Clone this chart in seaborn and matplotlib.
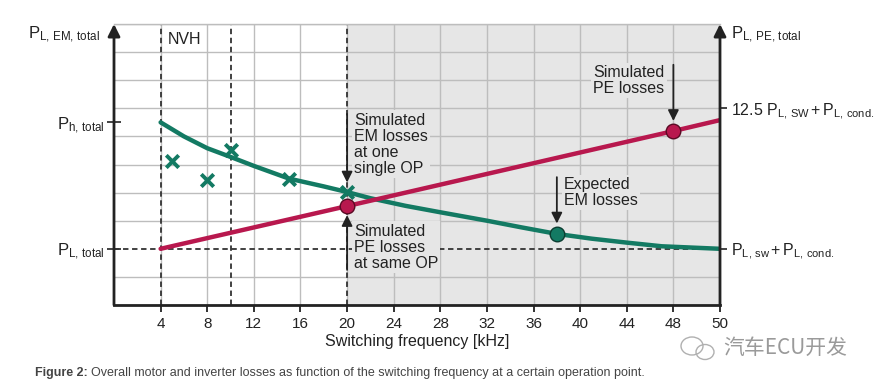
import numpy as np
import matplotlib
matplotlib.use('Agg')
import matplotlib.pyplot as plt
from matplotlib.ticker import MultipleLocator
from matplotlib.patches import Ellipse
import seaborn as sns

# values (y in grid units, 0 = bottom, 10 = top)
em_freq = [4, 6, 8, 10, 12, 15, 18, 20, 22, 25, 28, 32, 35, 38, 41, 44, 47, 50]
em_loss = [6.5, 6.0, 5.58, 5.27, 4.95, 4.5, 4.22, 4.02, 3.8, 3.53, 3.3, 3.0,
           2.76, 2.53, 2.36, 2.22, 2.09, 2.0]
pe_freq = [4, 20, 48, 50]
pe_loss = [2.0, 3.52, 6.19, 6.58]
meas_freq = [5, 8, 10, 15, 20]
meas_loss = [5.12, 4.45, 5.52, 4.48, 4.02]
em_pt_freq = [38]
em_pt_loss = [2.53]
pe_pt_freq = [20, 48]
pe_pt_loss = [3.52, 6.19]
xticks = [4, 8, 12, 16, 20, 24, 28, 32, 36, 40, 44, 48, 50]
nvh_lines = [4, 10, 20]
p_total = 2.0
p_h_total = 6.5
p_pe_level = 7.0

GREEN = '#137a63'
RED = '#b8184e'
DARK = '#222222'
SHADE = '#e6e6e6'

sns.set_style('white')
plt.rcParams['font.family'] = ['Liberation Sans', 'Noto Sans CJK SC', 'DejaVu Sans']
plt.rcParams['mathtext.fontset'] = 'custom'
plt.rcParams['mathtext.rm'] = 'Liberation Sans'
plt.rcParams['mathtext.bf'] = 'Liberation Sans:bold'
plt.rcParams['mathtext.it'] = 'Liberation Sans:italic'


# last tick interval (48-50) is drawn as wide as the others
def fwd(f):
    f = np.asarray(f, dtype=float)
    return np.where(f <= 48, f, 48 + 2 * (f - 48))


def inv(u):
    u = np.asarray(u, dtype=float)
    return np.where(u <= 48, u, 48 + (u - 48) / 2)


fig = plt.figure(figsize=(8.74, 3.87), dpi=100)
ax = fig.add_axes([114 / 874, 82 / 387, 606 / 874, 281 / 387])
ax.set_xscale('function', functions=(fwd, inv))
ax.set_xlim(0, 50)
ax.set_ylim(0, 10)

# shaded region and grid
ax.axvspan(20, 50, color=SHADE, zorder=0, lw=0)
ax.set_axisbelow(True)
ax.set_xticks(xticks)
ax.set_xticklabels([str(t) for t in xticks])
ax.yaxis.set_minor_locator(MultipleLocator(1))
ax.grid(axis='x', which='major', color='#bdbdbd', lw=1)
ax.grid(axis='y', which='minor', color='#bdbdbd', lw=1)

# dashed guide lines
for f in nvh_lines:
    ax.axvline(f, color='#333333', ls=(0, (3, 2)), lw=1.3, zorder=1)
ax.axhline(p_total, color='#333333', ls=(0, (3, 2)), lw=1.3, zorder=1)

# curves
sns.lineplot(x=em_freq, y=em_loss, ax=ax, color=GREEN, lw=3.2, zorder=3)
sns.lineplot(x=pe_freq, y=pe_loss, ax=ax, color=RED, lw=3.2, zorder=3)
sns.scatterplot(x=meas_freq, y=meas_loss, ax=ax, marker='x', s=80,
                color=GREEN, linewidth=2.8, zorder=4)
sns.scatterplot(x=em_pt_freq, y=em_pt_loss, ax=ax, s=110, color=GREEN,
                edgecolor='#0b3d31', linewidth=1, zorder=5)
sns.scatterplot(x=pe_pt_freq, y=pe_pt_loss, ax=ax, s=110, color=RED,
                edgecolor='#5a0a24', linewidth=1, zorder=5)

# annotations
arr = dict(arrowstyle='-|>', color=DARK, lw=1.3, mutation_scale=16,
           shrinkA=0, shrinkB=0)
fs = 11.5
box = dict(fc=SHADE, ec='none', pad=1.5)
ax.annotate('', xy=(20, 4.36), xytext=(20, 6.8), arrowprops=arr, zorder=6)
ax.annotate('Simulated\nEM losses\nat one\nsingle OP', xy=(20, 6.85),
            xytext=(5, 0), textcoords='offset points', ha='left', va='top',
            fontsize=fs, color=DARK, linespacing=1.1, bbox=box, zorder=2)
ax.annotate('', xy=(20, 3.2), xytext=(20, 1.25), arrowprops=arr, zorder=6)
ax.annotate('Simulated\nPE losses\nat same OP', xy=(20, 2.9),
            xytext=(5, 0), textcoords='offset points', ha='left', va='top',
            fontsize=fs, color=DARK, linespacing=1.1, bbox=box, zorder=2)
ax.annotate('', xy=(38, 2.9), xytext=(38, 4.55), arrowprops=arr, zorder=6)
ax.annotate('Expected\nEM losses', xy=(38, 4.55),
            xytext=(5, 0), textcoords='offset points', ha='left', va='top',
            fontsize=fs, color=DARK, linespacing=1.1, bbox=box, zorder=2)
ax.annotate('', xy=(48, 6.55), xytext=(48, 8.55), arrowprops=arr, zorder=6)
ax.annotate('Simulated\nPE losses', xy=(48, 8.55),
            xytext=(-32, 0), textcoords='offset points', ha='center', va='top',
            fontsize=fs, color=DARK, linespacing=1.1, bbox=box, zorder=2)
ax.annotate('NVH', xy=(4, 9.45), xytext=(5, 0), textcoords='offset points',
            ha='left', va='center', fontsize=11.5, color=DARK)

# spines and axis arrows
for s in ['left', 'right']:
    ax.spines[s].set_visible(False)
ax.spines['top'].set_color('#bdbdbd')
ax.spines['top'].set_linewidth(1)
ax.spines['bottom'].set_color(DARK)
ax.spines['bottom'].set_linewidth(2)
axarr = dict(arrowstyle='-|>', color=DARK, lw=2, mutation_scale=18,
             shrinkA=0, shrinkB=0)
ax.annotate('', xy=(0, 1.0), xycoords='axes fraction', xytext=(0, 0),
            textcoords='axes fraction', arrowprops=axarr, zorder=7)
ax.annotate('', xy=(1, 1.0), xycoords='axes fraction', xytext=(1, 0),
            textcoords='axes fraction', arrowprops=axarr, zorder=7)

ax.tick_params(axis='x', which='major', direction='out', length=5, width=1.3,
               color=DARK, labelsize=11, labelcolor=DARK, pad=4, bottom=True)
ax.tick_params(axis='y', which='minor', length=0)
ax.set_yticks([p_total, p_h_total])
ax.set_yticklabels([r'$\mathregular{P_{L,\,total}}$',
                    r'$\mathregular{P_{h,\,total}}$'])
ax.tick_params(axis='y', which='major', direction='inout', length=10, width=1.2,
               color=DARK, labelsize=12, labelcolor=DARK, pad=2, left=True)
ax.set_xlabel('Switching frequency [kHz]', fontsize=11.5, color=DARK, labelpad=2)
ax.set_ylabel('')

ax2 = ax.twinx()
ax2.set_ylim(0, 10)
for s in ax2.spines.values():
    s.set_visible(False)
ax2.set_yticks([p_total, p_pe_level])
ax2.set_yticklabels([r'$\mathregular{P_{L,\,sw}\,{+}\,P_{L,\,cond.}}$',
                     r'$\mathregular{12.5\ P_{L,\,SW}\,{+}\,P_{L,\,cond.}}$'])
ax2.tick_params(axis='y', direction='out', length=5, width=1.2, color=DARK,
                labelsize=11.5, labelcolor=DARK, pad=3)

# axis titles at the arrow tips
fig.text(100 / 874, 1 - 35 / 387, r'$\mathregular{P_{L,\,EM,\,total}}$',
         ha='right', va='center', fontsize=12, color=DARK)
fig.text(731 / 874, 1 - 35 / 387, r'$\mathregular{P_{L,\,PE,\,total}}$',
         ha='left', va='center', fontsize=12, color=DARK)

# caption: bold prefix, then the rest placed right after it
cap_y = 1 - 373 / 387
t_bold = fig.text(35 / 874, cap_y, 'Figure 2:', ha='left', va='center',
                  fontsize=9, fontweight='bold', color='#444444')
renderer = fig.canvas.get_renderer()
bb = t_bold.get_window_extent(renderer=renderer)
fig.text((bb.x1 + 3) / fig.bbox.width, cap_y,
         'Overall motor and inverter losses as function of the switching '
         'frequency at a certain operation point.',
         ha='left', va='center', fontsize=9, color='#444444')

# watermark
fig.text(723 / 874, 1 - 348 / 387, '汽车ECU开发', ha='left', va='center',
         fontsize=15, color='#9a9a9a', family=['Noto Sans CJK SC', 'DejaVu Sans'])
fig.patches.append(Ellipse((692 / 874, 1 - 346 / 387), 22 / 874, 18 / 387,
                           transform=fig.transFigure, fill=False,
                           ec='#b0b0b0', lw=1))
fig.patches.append(Ellipse((705 / 874, 1 - 352 / 387), 18 / 874, 15 / 387,
                           transform=fig.transFigure, fill=False,
                           ec='#b0b0b0', lw=1))

fig.savefig('out.png', dpi=100)
